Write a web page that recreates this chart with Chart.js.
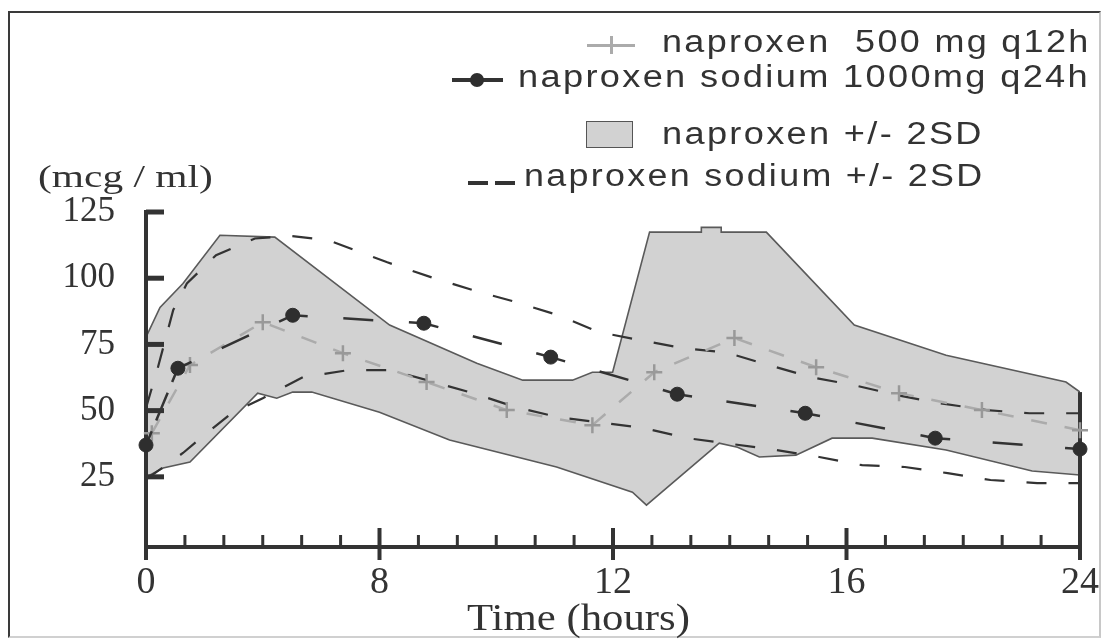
<!DOCTYPE html>
<html>
<head>
<meta charset="utf-8">
<script src="https://cdn.jsdelivr.net/npm/chart.js@4.4.1/dist/chart.umd.min.js"></script>
<style>
html,body{margin:0;padding:0;background:#fff;}
#wrap{position:relative;width:1104px;height:639px;overflow:hidden;background:#fff;}
#c{position:absolute;left:0;top:0;}
#frame{position:absolute;left:8px;top:11px;width:1093px;height:627px;box-sizing:border-box;border:2px solid #3a3a3a;border-right-color:#c8c8c8;border-bottom-color:#d0d0d0;pointer-events:none;}
.t{position:absolute;white-space:pre;color:#333;transform-origin:0 0;}
.sans{font-family:'Liberation Sans',Arial,sans-serif;font-size:31px;line-height:31px;letter-spacing:2px;}
.serif{font-family:'Liberation Serif','Times New Roman',serif;}
.mk{position:absolute;}
</style>
</head>
<body>
<div id="wrap">
<canvas id="c" width="1104" height="639"></canvas>
<div id="frame"></div>

<div class="mk" style="left:587px;top:44px;width:48px;height:3px;background:#ababab;"></div>
<div class="mk" style="left:610px;top:36px;width:3px;height:18px;background:#ababab;"></div>
<div class="t sans" id="lg1">naproxen  500 mg q12h</div>

<div class="mk" style="left:452px;top:78px;width:51px;height:4px;background:#333;"></div>
<div class="mk" style="left:470px;top:73px;width:14px;height:14px;border-radius:50%;background:#2e2e2e;"></div>
<div class="t sans" id="lg2">naproxen sodium 1000mg q24h</div>

<div class="mk" style="left:586px;top:121px;width:47px;height:27px;box-sizing:border-box;background:#d2d2d2;border:1.5px solid #555;"></div>
<div class="t sans" id="lg3">naproxen +/- 2SD</div>

<div class="mk" style="left:468px;top:181px;width:20px;height:4px;background:#333;"></div>
<div class="mk" style="left:495px;top:181px;width:20px;height:4px;background:#333;"></div>
<div class="t sans" id="lg4">naproxen sodium +/- 2SD</div>

<div class="t serif" id="ytitle" style="font-size:31px;line-height:31px;">(mcg / ml)</div>
<div class="t serif" id="xtitle" style="font-size:37px;line-height:37px;">Time (hours)</div>
</div>

<script>
// ---- axis ticks ----
const xTickValues = [0, 6, 12, 18, 24];
const xTickLabels = ['0', '8', '12', '16', '24'];
const yTickValues = [25, 50, 75, 100, 125];

// ---- naproxen 500 mg q12h (mean, plus markers) ----
const naproxenTime = [0.15, 1.13, 3.0, 5.06, 7.21, 9.27, 11.47, 13.06, 15.12, 17.22, 19.35, 21.48, 24];
const naproxenConc = [41.5, 67.2, 83.4, 71.7, 60.8, 50.2, 44.5, 64.5, 77.4, 66.4, 56.6, 50.2, 42.6];

// ---- naproxen sodium 1000mg q24h (mean, dots) ----
const sodiumTime = [0, 0.82, 3.77, 7.14, 10.4, 13.65, 16.94, 20.28, 24];
const sodiumConc = [37, 66, 86, 83, 70.2, 56.2, 49, 39.6, 35.5];

// ---- naproxen +/- 2SD (shaded band) ----
const bandUpperTime = [0, 0.36, 0.95, 1.9, 3.31, 6.26, 8.5, 9.68, 10.96, 11.47, 11.99, 12.94, 14.27, 14.27, 14.78, 14.78, 15.94, 18.2, 20.56, 23.64, 24];
const bandUpperConc = [77.7, 89, 98, 116.2, 115.5, 82.3, 67.9, 61.5, 61.5, 64.5, 64.5, 117.4, 117.4, 119.2, 119.2, 117.4, 117.4, 82.3, 70.9, 60.8, 57];
const bandLowerTime = [0, 0.44, 1.13, 2.87, 3.36, 3.77, 4.26, 6.0, 7.8, 10.55, 12.5, 12.86, 14.73, 15.2, 15.76, 16.7, 17.63, 18.66, 20.56, 22.77, 24];
const bandLowerConc = [24.9, 28.3, 30.6, 56.6, 54.7, 57, 57, 49.4, 38.9, 28.7, 19.2, 14.3, 37.7, 36.2, 32.5, 33.2, 39.6, 39.6, 35.1, 27.2, 25.7];

// ---- naproxen sodium +/- 2SD (dashed lines) ----
const sodiumUpperTime = [0, 0.3, 0.7, 1.05, 1.8, 2.8, 3.7, 4.7, 6.2, 7.4, 8.4, 9.5, 10.6, 11.65, 12.7, 13.8, 14.9, 16, 17.1, 18.2, 19.3, 20.4, 21.6, 22.7, 24];
const sodiumUpperConc = [51, 66, 88, 98, 108.7, 115, 116, 114.3, 106, 100, 95.5, 91, 86, 79.6, 76.6, 73.6, 72, 67.2, 62.6, 59.6, 55.8, 52.8, 50.2, 49, 49];
const sodiumLowerTime = [0, 0.95, 1.4, 2.2, 3.0, 4.03, 5.2, 6.3, 8.4, 9.5, 10.6, 11.8, 12.8, 13.9, 14.9, 16.2, 17.3, 18.4, 19.5, 20.6, 21.7, 22.9, 24];
const sodiumLowerConc = [24, 34, 39.6, 49, 54.7, 62.6, 65.3, 65.3, 56.6, 51.3, 47.5, 45.3, 43.4, 39.6, 37.7, 35.1, 32.5, 29.4, 28.7, 26.4, 23.8, 22.6, 22.6];

const pts = (ts, vs) => ts.map((t, i) => ({x: t, y: vs[i]}));
const DARK = '#333333';
const BAND_INDEX = 4;

// dash pattern per segment: short stub at each dot, one long dash in the middle
function dotDash(ctx) {
  const L = Math.hypot(ctx.p1.x - ctx.p0.x, ctx.p1.y - ctx.p0.y);
  const s = 15, d = 30;
  const g = (L - 2 * s - d) / 2;
  if (g < 8) return [Math.max(L / 2 - 5, 1), 10, L];
  return [s, g, d, g, s + 4, 1000];
}

const axesPlugin = {
  id: 'axesPlugin',
  afterDatasetDraw(chart, args) {
    if (args.index !== BAND_INDEX) return;
    const {ctx, scales: {x, y}} = chart;
    const x0 = x.getPixelForValue(x.min), x1 = x.getPixelForValue(x.max);
    const yb = y.getPixelForValue(y.min), yt = y.getPixelForValue(y.max);
    const seg = (ax, ay, bx, by, w) => { ctx.lineWidth = w; ctx.beginPath(); ctx.moveTo(ax, ay); ctx.lineTo(bx, by); ctx.stroke(); };
    ctx.save();
    ctx.strokeStyle = DARK;
    ctx.lineCap = 'butt';
    seg(x0, yb + 13, x0, yt - 2, 4);
    seg(x0 - 2, yb, x1 + 2, yb, 4);
    seg(x1, yb + 13, x1, y.getPixelForValue(bandUpperConc[bandUpperConc.length - 1]), 4);
    yTickValues.forEach(v => { const py = y.getPixelForValue(v); seg(x0, py, x0 + 18, py, 5); });
    for (let t = x.min; t <= x.max; t++) {
      const px = x.getPixelForValue(t);
      if (xTickValues.includes(t)) seg(px, yb + 13, px, yb - 19, 4);
      else seg(px, yb, px, yb - 12, 3);
    }
    ctx.restore();
  }
};

new Chart(document.getElementById('c'), {
  type: 'line',
  data: {
    datasets: [
      {
        label: 'naproxen sodium 1000mg q24h',
        data: pts(sodiumTime, sodiumConc),
        borderColor: DARK, borderWidth: 2.5,
        pointRadius: 7, pointBackgroundColor: '#2e2e2e', pointBorderColor: '#2e2e2e', pointBorderWidth: 1,
        segment: { borderDash: dotDash },
        fill: false, clip: false, tension: 0
      },
      {
        label: 'naproxen  500 mg q12h',
        data: pts(naproxenTime, naproxenConc),
        borderColor: '#ababab', borderWidth: 2.5, borderDash: [16, 18],
        pointStyle: 'cross', pointRadius: 8, pointBorderColor: '#999999', pointBorderWidth: 2.5,
        fill: false, clip: false, tension: 0
      },
      {
        label: 'naproxen sodium +2SD',
        data: pts(sodiumUpperTime, sodiumUpperConc),
        borderColor: DARK, borderWidth: 2.2, borderDash: [20, 22],
        pointRadius: 0, fill: false, tension: 0
      },
      {
        label: 'naproxen sodium -2SD',
        data: pts(sodiumLowerTime, sodiumLowerConc),
        borderColor: DARK, borderWidth: 2.2, borderDash: [20, 22],
        pointRadius: 0, fill: false, tension: 0
      },
      {
        label: 'naproxen +2SD',
        data: pts(bandUpperTime, bandUpperConc),
        borderColor: '#5a5a5a', borderWidth: 1.6,
        pointRadius: 0, fill: false, tension: 0
      },
      {
        label: 'naproxen -2SD',
        data: pts(bandLowerTime, bandLowerConc),
        borderColor: '#5a5a5a', borderWidth: 1.6, backgroundColor: '#d2d2d2',
        pointRadius: 0, fill: {target: BAND_INDEX}, tension: 0
      }
    ]
  },
  options: {
    responsive: false,
    devicePixelRatio: 1,
    animation: false,
    events: [],
    layout: { padding: { left: 0, right: 23, top: 212, bottom: 0 } },
    plugins: { legend: { display: false }, tooltip: { enabled: false }, title: { display: false } },
    scales: {
      x: {
        type: 'linear', min: 0, max: 24,
        afterBuildTicks: s => { s.ticks = xTickValues.map(v => ({value: v})); },
        afterFit: s => { s.height = 92; },
        grid: { display: false }, border: { display: false },
        ticks: {
          callback: (v, i) => xTickLabels[i],
          color: DARK, padding: 5, maxRotation: 0, autoSkip: false,
          font: { family: "'Liberation Serif', 'Times New Roman', serif", size: 38 }
        }
      },
      y: {
        type: 'linear', min: -1.5, max: 125,
        afterBuildTicks: s => { s.ticks = yTickValues.map(v => ({value: v})); },
        afterFit: s => { s.width = 146; },
        grid: { display: false }, border: { display: false },
        ticks: {
          callback: v => String(v),
          color: DARK, padding: 23,
          font: { family: "'Liberation Serif', 'Times New Roman', serif", size: 35 }
        }
      }
    }
  },
  plugins: [axesPlugin]
});

function place(id, left, right, top) {
  const el = document.getElementById(id);
  el.style.left = left + 'px';
  el.style.top = top + 'px';
  el.style.transform = 'none';
  const w = el.offsetWidth;
  el.style.transform = 'scaleX(' + ((right - left) / w) + ')';
}
function layoutTexts() {
  place('lg1', 662, 1090, 26);
  place('lg2', 518, 1090, 61);
  place('lg3', 662, 984, 118);
  place('lg4', 524, 984, 160);
  place('ytitle', 38, 213, 161);
  place('xtitle', 467, 690, 599);
}
layoutTexts();
if (document.fonts && document.fonts.ready) document.fonts.ready.then(layoutTexts);
</script>
</body>
</html>
